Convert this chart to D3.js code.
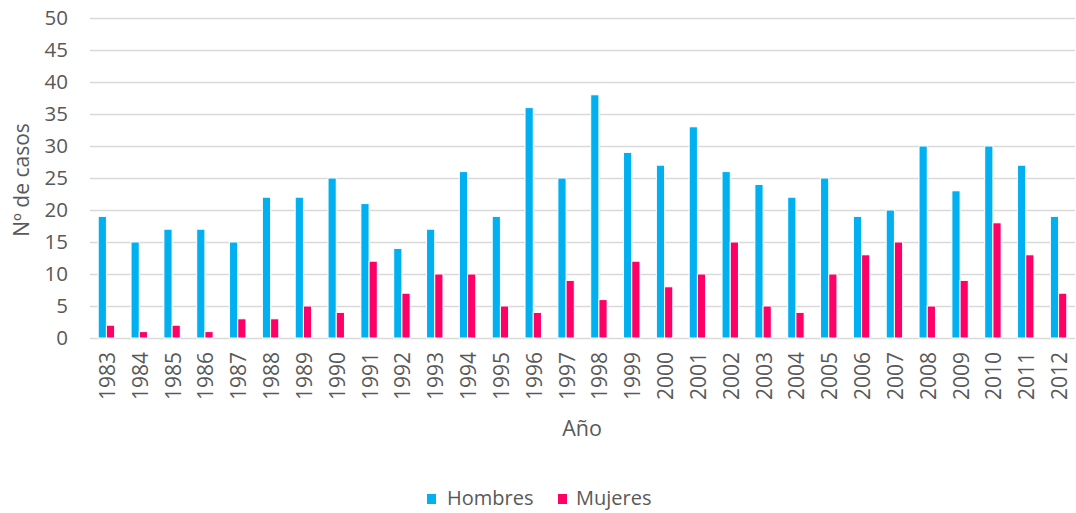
<!DOCTYPE html>
<html>
<head>
<meta charset="utf-8">
<script src="https://cdn.jsdelivr.net/npm/d3@7"></script>
<style>
  body { margin: 0; background: #fff; }
  text { font-family: "Open Sans", sans-serif; fill: #595959; }
</style>
</head>
<body>
<svg id="chart"></svg>
<script>
// data
const years = ['1983','1984','1985','1986','1987','1988','1989','1990','1991','1992',
    '1993','1994','1995','1996','1997','1998','1999','2000','2001','2002',
    '2003','2004','2005','2006','2007','2008','2009','2010','2011','2012'];
const hombres = [19, 15, 17, 17, 15, 22, 22, 25, 21, 14, 17, 26, 19, 36, 25, 38, 29, 27, 33, 26,
    24, 22, 25, 19, 20, 30, 23, 30, 27, 19];
const mujeres = [2, 1, 2, 1, 3, 3, 5, 4, 12, 7, 10, 10, 5, 4, 9, 6, 12, 8, 10, 15,
    5, 4, 10, 13, 15, 5, 9, 18, 13, 7];
const seriesNames = ['Hombres', 'Mujeres'];
const yTicks = [0, 5, 10, 15, 20, 25, 30, 35, 40, 45, 50];

const colors = { Hombres: '#00b0f0', Mujeres: '#ff0066' };
const width = 1076, height = 513;
const plot = { left: 90, right: 1075, top: 18, bottom: 338 };

const data = years.map((y, i) => ({ year: y, Hombres: hombres[i], Mujeres: mujeres[i] }));

const svg = d3.select('#chart')
    .attr('width', width)
    .attr('height', height);

const x = d3.scaleBand()
    .domain(years)
    .range([plot.left, plot.right])
    .paddingInner(0.5)
    .paddingOuter(0.25);

const xSub = d3.scaleBand()
    .domain(seriesNames)
    .range([0, x.bandwidth()]);

const y = d3.scaleLinear()
    .domain([0, 50])
    .range([plot.bottom, plot.top]);

// gridlines + y labels
const yAxis = svg.append('g')
    .attr('transform', `translate(${plot.left}, 0)`)
    .call(d3.axisLeft(y).tickValues(yTicks).tickSize(-(plot.right - plot.left)).tickPadding(22));
yAxis.select('.domain').remove();
yAxis.selectAll('.tick line').attr('stroke', '#d9d9d9').attr('stroke-width', 1.3);
yAxis.selectAll('.tick text')
    .attr('font-size', 20.5)
    .attr('font-family', '"Open Sans", sans-serif')
    .attr('fill', '#595959');

// bars
svg.append('g')
    .selectAll('g')
    .data(data)
    .join('g')
    .attr('transform', d => `translate(${x(d.year)}, 0)`)
    .selectAll('rect')
    .data(d => seriesNames.map(k => ({ key: k, value: d[k] })))
    .join('rect')
    .attr('x', d => xSub(d.key))
    .attr('width', xSub.bandwidth())
    .attr('y', d => y(d.value))
    .attr('height', d => y(0) - y(d.value))
    .attr('fill', d => colors[d.key])
    .attr('stroke', 'white')
    .attr('stroke-width', 1);

// x axis labels (rotated)
const xAxis = svg.append('g')
    .attr('transform', `translate(0, ${plot.bottom})`)
    .call(d3.axisBottom(x).tickSize(0).tickPadding(0));
xAxis.select('.domain').remove();
xAxis.selectAll('.tick text')
    .attr('font-size', 21)
    .attr('font-family', '"Open Sans", sans-serif')
    .attr('fill', '#595959')
    .attr('text-anchor', 'end')
    .attr('transform', 'translate(1, 14) rotate(-90)')
    .attr('x', 0)
    .attr('y', 0)
    .attr('dy', '0.36em');

// axis titles
svg.append('text')
    .attr('transform', `translate(29, ${(plot.top + plot.bottom) / 2 + 2}) rotate(-90)`)
    .attr('text-anchor', 'middle')
    .attr('font-size', 21)
    .text('Nº de casos');

svg.append('text')
    .attr('x', 582)
    .attr('y', 436)
    .attr('text-anchor', 'middle')
    .attr('font-size', 21.5)
    .text('Año');

// legend
const legend = svg.append('g');
const legendPos = [{ sx: 427, tx: 447 }, { sx: 558, tx: 576 }];
seriesNames.forEach((name, i) => {
    legend.append('rect')
        .attr('x', legendPos[i].sx)
        .attr('y', 494)
        .attr('width', 9)
        .attr('height', 10)
        .attr('fill', colors[name]);
    legend.append('text')
        .attr('x', legendPos[i].tx)
        .attr('y', 505)
        .attr('font-size', 20)
        .text(name);
});
</script>
</body>
</html>
